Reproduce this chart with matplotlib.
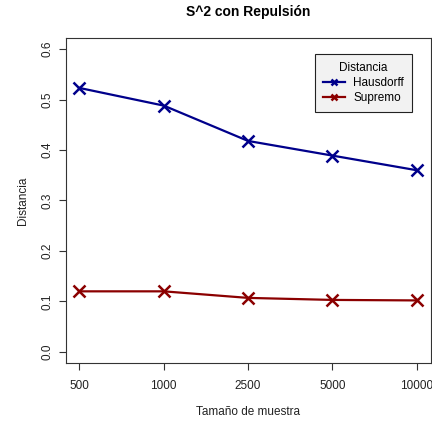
import matplotlib
matplotlib.use("Agg")
import matplotlib.pyplot as plt

sizes = ["500", "1000", "2500", "5000", "10000"]
hausdorff = [0.523, 0.488, 0.418, 0.389, 0.360]
supremo = [0.120, 0.120, 0.107, 0.103, 0.102]

plt.rcParams['font.family'] = ['Liberation Sans', 'DejaVu Sans']

fig = plt.figure(figsize=(4.32, 4.22), dpi=100)
ax = fig.add_axes([66/432, 59/422, 365/432, 325/422])
x = list(range(1, len(sizes) + 1))
ax.plot(x, hausdorff, color='#00008B', lw=1.6, marker='x', ms=8, mew=1.8, label='Hausdorff')
ax.plot(x, supremo, color='#8B0000', lw=1.6, marker='x', ms=8, mew=1.8, label='Supremo')
ax.set_xlim(0.84, 5.17)
ax.set_ylim(-0.022, 0.622)
ax.set_xticks(x)
ax.set_xticklabels(sizes, fontsize=8.5)
ax.set_yticks([0, 0.1, 0.2, 0.3, 0.4, 0.5, 0.6])
ax.set_yticklabels(['0.0', '0.1', '0.2', '0.3', '0.4', '0.5', '0.6'], fontsize=8.5, rotation=90, va='center')
ax.tick_params(axis='both', length=5, width=0.8, color='#333333', labelcolor='#222222')
ax.tick_params(axis='x', pad=7)
ax.tick_params(axis='y', pad=4)
for s in ax.spines.values():
    s.set_linewidth(0.8)
    s.set_color('#333333')
ax.set_xlabel('Tamaño de muestra', fontsize=8.5, labelpad=10, color='#222222')
ax.set_ylabel('Distancia', fontsize=8.5, labelpad=9, color='#222222')
fig.text(248/432, 1 - 12/422, 'S^2 con Repulsión', fontsize=10, fontweight='bold',
         ha='center', va='center')
leg = ax.legend(title='Distancia', loc='upper right', bbox_to_anchor=(0.948, 0.951),
                borderaxespad=0,
                fontsize=8.5, title_fontsize=8.5, fancybox=False, framealpha=1,
                edgecolor='#222222', facecolor='#F2F2F2', handlelength=1.8,
                borderpad=0.7, labelspacing=0.25, handletextpad=0.7, markerscale=0.55)
leg.get_frame().set_linewidth(0.8)
fig.savefig('out.png', dpi=100)
